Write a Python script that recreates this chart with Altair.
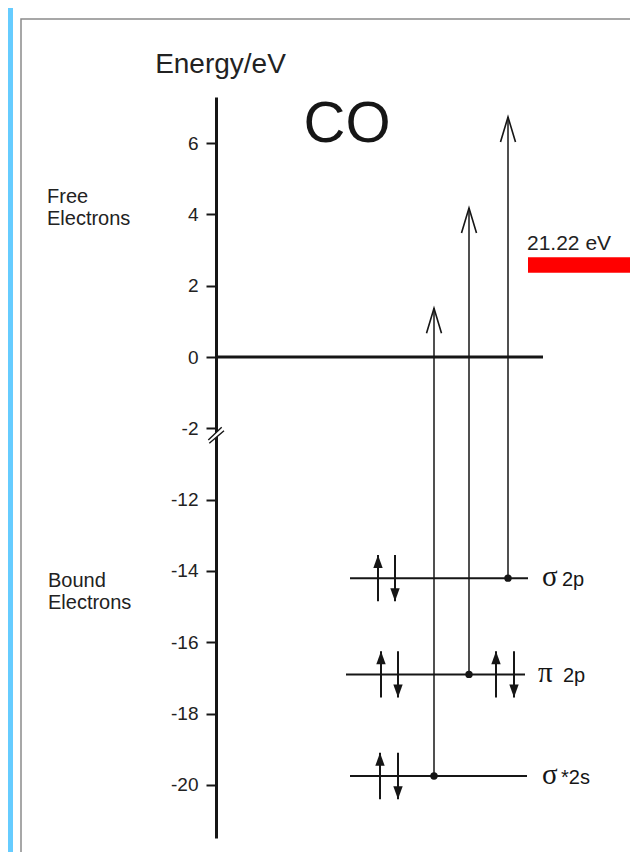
import altair as alt
import pandas as pd

# ---------------- data ----------------
orbital_names = ["σ 2p", "π 2p", "σ*2s"]
orbital_greek = ["σ", "π", "σ"]
orbital_suffix = ["2p", "2p", "*2s"]
orbital_energy = [-14.2, -16.9, -19.75]        # eV, bound levels
ionized_energy = [6.73, 4.18, 1.37]             # eV, top of photo-ionisation arrows
photon_energy = 21.22                           # eV (He I line)

spin_orbital = ["σ 2p", "σ 2p", "π 2p", "π 2p", "π 2p", "π 2p", "σ*2s", "σ*2s"]
spin_direction = [1, -1, 1, -1, 1, -1, 1, -1]   # +1 spin up, -1 spin down

axis_ticks = [6, 4, 2, 0, -2, -12, -14, -16, -18, -20]
region_labels = ["Free\nElectrons", "Bound\nElectrons"]
region_energy = [4.32, -14.45]
molecule = "CO"

# ---------------- layout (horizontal placement of the diagram) ----------------
level_x1 = [134, 130, 134]
level_x2 = [312, 309, 311]
transition_x = [292, 253, 218]
label_x = [326, 322, 326]
suffix_x = [346, 347, 345]
spin_x = [162, 179, 165, 182, 280, 298, 164, 182]
spin_half = 0.65
region_x = [-169, -168]

INK = "#161616"
SANS = "Liberation Sans"
SERIF = "Liberation Serif"

levels = pd.DataFrame({
    "orbital": orbital_names, "greek": orbital_greek, "suffix": orbital_suffix,
    "E": orbital_energy, "tip": ionized_energy,
    "x1": level_x1, "x2": level_x2, "xt": transition_x, "xl": label_x, "xs": suffix_x,
})
spins = pd.DataFrame({"orbital": spin_orbital, "dir": spin_direction, "x": spin_x})
spins = spins.merge(levels[["orbital", "E"]], on="orbital")
spins["lo"] = spins["E"] - spin_half
spins["hi"] = spins["E"] + spin_half
spins["tipE"] = spins["E"] + spins["dir"] * spin_half
spins["rot"] = [0 if d > 0 else 180 for d in spins["dir"]]

regions = pd.DataFrame({"text": region_labels, "E": region_energy, "x": region_x})

# broken energy axis: -2 .. -12 eV squeezed into one tick step
y_scale = alt.Scale(domain=[-21.49, -12, -2, 7.29], range=[741, 402.7, 331.4, 0],
                    nice=False, zero=False)
x_scale = alt.Scale(domain=[0, 414], nice=False, zero=False)
y_axis = alt.Axis(
    values=axis_ticks, labelExpr="'' + datum.value", grid=False,
    domainColor=INK, domainWidth=3, tickColor=INK, tickWidth=2, tickSize=10,
    labelFont=SANS, labelFontSize=19, labelColor="#222", labelPadding=8,
    labelOverlap=False, labelFlush=False,
    title="Energy/eV", titleAngle=0, titleFont=SANS, titleFontSize=28,
    titleFontWeight="normal", titleColor="#222", titleX=4, titleY=-25,
    titleAlign="center", titleBaseline="alphabetic",
)


def X(f):
    return alt.X(f, type="quantitative", scale=x_scale, axis=None)


def Y(f):
    return alt.Y(f, type="quantitative", scale=y_scale, axis=y_axis)


one = pd.DataFrame({"k": [0]})

# page decorations (scan look): blue edge and thin grey frame
blue_edge = alt.Chart(one).mark_rect(color="#66ccff").encode(
    x=alt.datum(-208, type="quantitative", scale=x_scale, axis=None),
    x2=alt.datum(-203),
    y=alt.datum(12, type="quantitative", scale=y_scale, axis=y_axis),
    y2=alt.datum(-25),
)
frame = alt.Chart(one).mark_rect(fillOpacity=0, stroke="#8a8a8a", strokeWidth=1.5).encode(
    x=alt.datum(-195, type="quantitative", scale=x_scale, axis=None),
    x2=alt.datum(420),
    y=alt.datum(9.48, type="quantitative", scale=y_scale, axis=y_axis),
    y2=alt.datum(-22.13),
)

zero_line = alt.Chart(one).mark_rule(color=INK, strokeWidth=3).encode(
    x=alt.datum(0, type="quantitative", scale=x_scale, axis=None),
    x2=alt.datum(327),
    y=alt.datum(0, type="quantitative", scale=y_scale, axis=y_axis),
)

base = alt.Chart(levels)
level_lines = base.mark_rule(color=INK, strokeWidth=2).encode(
    x=X("x1"), x2="x2", y=Y("E"))
transitions = base.mark_rule(color=INK, strokeWidth=1.5).encode(
    x=X("xt"), y=Y("E"), y2="tip")
open_heads = base.mark_point(
    shape="M-0.6,2 L0,0 L0.6,2", filled=False, size=625, color=INK,
    strokeWidth=1.6, opacity=1).encode(x=X("xt"), y=Y("tip"))
dots = base.mark_circle(color=INK, size=55, opacity=1).encode(x=X("xt"), y=Y("E"))
greek = base.mark_text(font=SERIF, fontSize=29, align="left", baseline="alphabetic",
                       dy=8, color=INK).encode(x=X("xl"), y=Y("E"), text="greek")
suffix = base.mark_text(font=SANS, fontSize=20, align="left", baseline="alphabetic",
                        dy=8, color=INK).encode(x=X("xs"), y=Y("E"), text="suffix")

sbase = alt.Chart(spins)
spin_shafts = sbase.mark_rule(color=INK, strokeWidth=2).encode(
    x=X("x"), y=Y("lo"), y2="hi")
spin_heads = sbase.mark_point(
    shape="M0,0 L0.36,1 L-0.36,1 Z", filled=True, size=676, color=INK,
    strokeWidth=0, opacity=1).encode(
    x=X("x"), y=Y("tipE"), angle=alt.Angle("rot:Q", scale=None))

# axis break marks
break_fill = alt.Chart(one).mark_point(
    shape="M-0.77,0.5 L0.57,-0.77 L0.8,-0.43 L-0.67,0.83 Z", filled=True,
    color="white", size=400, opacity=1, strokeWidth=0).encode(
    x=alt.datum(0, type="quantitative", scale=x_scale, axis=None),
    y=alt.datum(-2.93, type="quantitative", scale=y_scale, axis=y_axis))
break_lines = alt.Chart(one).mark_point(
    shape="M-0.77,0.5 L0.57,-0.77 M-0.67,0.83 L0.8,-0.43", filled=False,
    color=INK, size=400, opacity=1, strokeWidth=1.4).encode(
    x=alt.datum(0, type="quantitative", scale=x_scale, axis=None),
    y=alt.datum(-2.93, type="quantitative", scale=y_scale, axis=y_axis))

region_text = alt.Chart(regions).mark_text(
    font=SANS, fontSize=20, align="left", baseline="alphabetic", lineBreak="\n",
    lineHeight=22, color="#222").encode(x=X("x"), y=Y("E"), text="text")

title_text = alt.Chart(one).mark_text(
    font=SANS, fontSize=58, align="center", baseline="alphabetic", color=INK).encode(
    x=alt.datum(131, type="quantitative", scale=x_scale, axis=None),
    y=alt.datum(6.03, type="quantitative", scale=y_scale, axis=y_axis),
    text=alt.value(molecule))

photon_label = alt.Chart(one).mark_text(
    font=SANS, fontSize=21, align="left", baseline="alphabetic", color="#222").encode(
    x=alt.datum(311, type="quantitative", scale=x_scale, axis=None),
    y=alt.datum(3.0, type="quantitative", scale=y_scale, axis=y_axis),
    text=alt.value(f"{photon_energy:.2f} eV"))
photon_bar = alt.Chart(one).mark_rect(color="#ff0000").encode(
    x=alt.datum(312, type="quantitative", scale=x_scale, axis=None),
    x2=alt.datum(417),
    y=alt.datum(2.80, type="quantitative", scale=y_scale, axis=y_axis),
    y2=alt.datum(2.36))

chart = alt.layer(
    blue_edge, frame, zero_line, level_lines, transitions, open_heads, dots,
    spin_shafts, spin_heads, break_fill, break_lines, greek, suffix,
    region_text, title_text, photon_label, photon_bar,
).properties(
    width=414, height=741,
    autosize=alt.AutoSizeParams(type="none"),
    padding={"left": 208, "top": 89, "right": 0, "bottom": 14},
    background="white",
).configure_view(stroke=None)

chart.save("out.html", embed_options={"renderer": "svg", "actions": False})
